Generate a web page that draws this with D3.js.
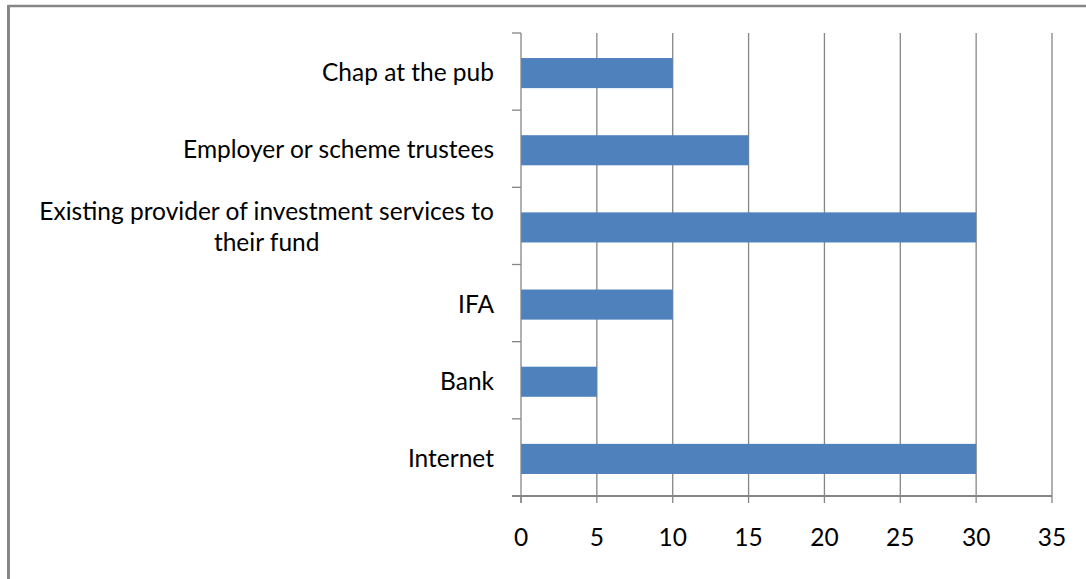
<!DOCTYPE html>
<html>
<head>
<meta charset="utf-8">
<script src="https://cdn.jsdelivr.net/npm/d3@7"></script>
<style>
  html, body { margin: 0; padding: 0; background: #fff; }
  svg { display: block; }
  text { font-family: Lato, "Open Sans", sans-serif; fill: #000; }
</style>
</head>
<body>
<svg id="chart" width="1086" height="579"></svg>
<script>
// Where people get advice: categories listed top to bottom
const categories = [
  "Chap at the pub",
  "Employer or scheme trustees",
  "Existing provider of investment services to their fund",
  "IFA",
  "Bank",
  "Internet"
];
// Line breaks for long category labels
const labelLines = [
  ["Chap at the pub"],
  ["Employer or scheme trustees"],
  ["Existing provider of investment services to", "their fund"],
  ["IFA"],
  ["Bank"],
  ["Internet"]
];
const values = [10, 15, 30, 10, 5, 30];
const xTicks = [0, 5, 10, 15, 20, 25, 30, 35];

const svg = d3.select("#chart");
const margin = { left: 521, right: 34, top: 33, bottom: 83 };
const W = 1086, H = 579;

// Frame: only top and left edges are visible
svg.append("line").attr("x1", 8.5).attr("x2", W).attr("y1", 6).attr("y2", 6)
  .attr("stroke", "#868686").attr("stroke-width", 2.5);
svg.append("line").attr("x1", 8.5).attr("x2", 8.5).attr("y1", 5).attr("y2", H)
  .attr("stroke", "#868686").attr("stroke-width", 3);

const x = d3.scaleLinear().domain([0, 35]).range([margin.left, W - margin.right]);
const y = d3.scaleBand().domain(categories).range([margin.top, H - margin.bottom]).paddingInner(0.61).paddingOuter(0.305);
const band = d3.scaleBand().domain(categories).range([margin.top, H - margin.bottom]);

// Vertical gridlines
svg.append("g").selectAll("line").data(xTicks.slice(1)).join("line")
  .attr("x1", d => x(d)).attr("x2", d => x(d))
  .attr("y1", margin.top).attr("y2", H - margin.bottom)
  .attr("stroke", "#868686").attr("stroke-width", 1.3);

// Bars
svg.append("g").selectAll("rect").data(values).join("rect")
  .attr("x", x(0))
  .attr("y", (d, i) => y(categories[i]) + 1.5)
  .attr("width", d => x(d) - x(0))
  .attr("height", y.bandwidth())
  .attr("fill", "#4F81BD");

// Y axis line and category boundary ticks
const yEdges = categories.map(c => band(c)).concat([H - margin.bottom]);
svg.append("line").attr("x1", x(0)).attr("x2", x(0))
  .attr("y1", margin.top).attr("y2", H - margin.bottom + 7)
  .attr("stroke", "#868686").attr("stroke-width", 1.3);
svg.append("g").selectAll("line").data(yEdges).join("line")
  .attr("x1", x(0) - 9).attr("x2", x(0))
  .attr("y1", d => d).attr("y2", d => d)
  .attr("stroke", "#868686").attr("stroke-width", 1.3);

// X axis line and ticks
svg.append("line").attr("x1", x(0) - 9).attr("x2", x(35))
  .attr("y1", H - margin.bottom).attr("y2", H - margin.bottom)
  .attr("stroke", "#868686").attr("stroke-width", 2);
svg.append("g").selectAll("line").data(xTicks).join("line")
  .attr("x1", d => x(d)).attr("x2", d => x(d))
  .attr("y1", H - margin.bottom).attr("y2", H - margin.bottom + 7)
  .attr("stroke", "#868686").attr("stroke-width", 1.3);

// X tick labels
svg.append("g").selectAll("text").data(xTicks).join("text")
  .attr("x", d => x(d)).attr("y", 546)
  .attr("text-anchor", "middle")
  .attr("font-size", 24.5)
  .text(d => d);

// Category labels, right aligned and vertically centred on each bar
const lineH = 31;
const labels = svg.append("g").selectAll("text").data(labelLines).join("text")
  .attr("text-anchor", "end")
  .attr("font-size", 24.5)
  .attr("y", (d, i) => band(categories[i]) + band.bandwidth() / 2 - (d.length - 1) * lineH / 2 + 9.5);
labels.each(function(lines) {
  const t = d3.select(this);
  lines.forEach((ln, j) => {
    t.append("tspan")
      .attr("x", 494)
      .attr("dy", j === 0 ? 0 : lineH)
      .text(ln);
  });
});
// Wrapped lines are centred under the first line
labels.filter(d => d.length > 1).each(function() {
  const t = d3.select(this);
  const w = t.select("tspan").node().getComputedTextLength();
  t.attr("text-anchor", "middle");
  t.selectAll("tspan").attr("x", 494 - w / 2);
});
</script>
</body>
</html>
